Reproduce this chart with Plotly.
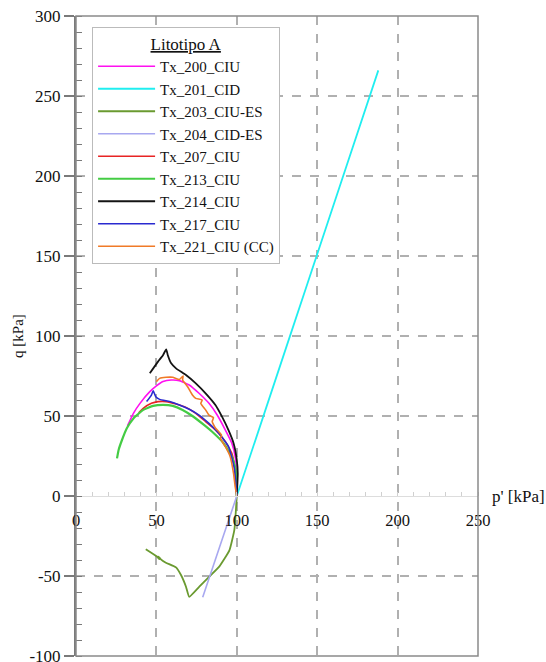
import plotly.graph_objects as go

# ---- data (p' [kPa], q [kPa]) ----
tx200_p = [100, 100, 99, 96.9, 92.9, 87.8, 82.7, 76.5, 70.4, 64.3, 59.2, 54.1, 50, 45.9, 39.8, 35.7, 32]
tx200_q = [0, 14, 24.6, 33, 41.2, 50.6, 57.9, 64.2, 69.4, 72.1, 72.5, 71.5, 68.8, 65.2, 57.9, 51.7, 43.8]

tx201_p = [100, 122, 144, 166, 188]
tx201_q = [0, 66.5, 133, 199.5, 266]

tx203_p = [100, 98.5, 95.4, 89.2, 82.9, 76.7, 70.4, 68.4, 65.3, 62.2, 55.9, 52.8, 51.3, 51.8, 50.5, 43.4]
tx203_q = [0, -21, -34, -44, -50.4, -56.7, -63, -56.7, -49.4, -44.6, -41.7, -39.6, -37.9, -39.5, -38, -33.3]

tx204_p = [100, 89.4, 78.8]
tx204_q = [0, -31.6, -63.3]

tx207_p = [100, 98.6, 96.9, 92.9, 86.7, 80.6, 74.5, 68.4, 62.2, 56.1, 51, 46.9, 41.8, 39]
tx207_q = [0, 18.3, 26.7, 34, 41.3, 46.5, 51.7, 55.4, 57.5, 59, 59, 57.9, 54.8, 52]

tx213_p = [100, 99.2, 96.9, 91.8, 85.7, 79.6, 72.4, 66.3, 60.2, 54.1, 48, 41.8, 35.7, 31.6, 28.6, 26.5, 25.5]
tx213_q = [0, 17, 24.6, 33, 39.2, 44.4, 50, 53.8, 56.3, 56.9, 56.3, 53.8, 48.5, 42.3, 35, 28.8, 23.5]

tx214_p = [100, 100.6, 100, 98, 94.9, 90.8, 86.7, 80.6, 74.5, 68.4, 62.2, 59.2, 57.1, 56.1, 54.1, 51, 45.9]
tx214_q = [0, 14, 22.5, 33, 41, 49.6, 56.9, 64.2, 70.4, 75.6, 79.8, 82.9, 88, 91.7, 88, 84, 76.7]

tx217_p = [100, 98.5, 94.9, 88.8, 82.7, 76.5, 70.4, 64.3, 58.2, 52, 49.6, 48, 46.9, 43.9]
tx217_q = [0, 17, 30.8, 39.2, 45.4, 50.6, 54.2, 56.9, 59, 60.4, 62.1, 65.8, 63.1, 59]

tx221_p = [100, 99, 98, 95.9, 92.9, 89.8, 90.5, 88.8, 86.7, 84.7, 85.5, 82.7, 80.6, 77.6, 78.5, 74.5, 72.4,
           69.4, 66.3, 66.6, 64.3, 60.2, 56.1, 52, 50]
tx221_q = [0, 5.8, 14, 24.6, 30.8, 36, 38, 40.2, 42.5, 46.5, 49, 50.5, 53.8, 57.9, 60, 61, 63.1,
           68.3, 72.5, 75, 72.8, 74.2, 74.2, 73.5, 71.5]

series = [
    ("Tx_200_CIU", tx200_p, tx200_q, "#ff10f0", 1.6),
    ("Tx_201_CID", tx201_p, tx201_q, "#20eef0", 1.8),
    ("Tx_203_CIU-ES", tx203_p, tx203_q, "#6a9a30", 1.8),
    ("Tx_204_CID-ES", tx204_p, tx204_q, "#a8a8f0", 1.6),
    ("Tx_207_CIU", tx207_p, tx207_q, "#e82424", 1.6),
    ("Tx_213_CIU", tx213_p, tx213_q, "#44cc44", 2.2),
    ("Tx_214_CIU", tx214_p, tx214_q, "#141414", 1.8),
    ("Tx_217_CIU", tx217_p, tx217_q, "#2a2ad0", 1.6),
    ("Tx_221_CIU (CC)", tx221_p, tx221_q, "#f07a28", 1.6),
]

x_ticks = [0, 50, 100, 150, 200, 250]
y_ticks = [-100, -50, 0, 50, 100, 150, 200, 250, 300]

SERIF = "Liberation Serif"

fig = go.Figure()
for name, p, q, col, w in series:
    fig.add_trace(go.Scatter(x=p, y=q, mode="lines", name=name,
                             line=dict(color=col, width=w, shape="spline", smoothing=0.4)))

fig.update_layout(
    width=546, height=662,
    margin=dict(l=76, r=68, t=16, b=6),
    plot_bgcolor="white", paper_bgcolor="white",
    font=dict(family=SERIF, size=16, color="#111"),
    showlegend=True,
    legend=dict(
        x=0.04, y=0.983, xanchor="left", yanchor="top",
        bgcolor="white", bordercolor="#bbbbbb", borderwidth=1,
        font=dict(family=SERIF, size=15, color="#111"),
        title=dict(text="<span style='text-decoration:underline'>Litotipo A</span>",
                   side="top center", font=dict(family=SERIF, size=17)),
        tracegroupgap=0, itemwidth=57,
    ),
    shapes=[dict(type="rect", xref="paper", yref="paper", x0=0, y0=0, x1=1, y1=1,
                 line=dict(color="#8a8a8a", width=1.5), layer="above")],
    annotations=[dict(text="p' [kPa]", xref="paper", yref="y", x=1.03, y=0,
                      xanchor="left", yanchor="middle", showarrow=False,
                      font=dict(family=SERIF, size=17, color="#111"))],
)

fig.update_xaxes(
    range=[0, 250], tickvals=x_ticks, ticktext=[str(v) for v in x_ticks],
    anchor="free", position=0.25,
    showline=True, linecolor="#dddddd", linewidth=1,
    ticks="outside", ticklen=9, tickcolor="rgba(0,0,0,0)",
    showgrid=True, gridcolor="#b0b0b0", griddash="dash", gridwidth=1.5,
    zeroline=False,
    minor=dict(dtick=10, ticks="inside", ticklen=4, tickcolor="#d0d0d0", showgrid=False),
    tickfont=dict(family=SERIF, size=16.5, color="#111"),
    ticklabeloverflow="allow",
)
fig.update_yaxes(
    range=[-100, 300], tickvals=y_ticks, ticktext=[str(v) for v in y_ticks],
    showline=True, linecolor="#7a7a7a", linewidth=2,
    ticks="outside", ticklen=10, tickcolor="#7a7a7a", tickwidth=1.5,
    showgrid=True, gridcolor="#b0b0b0", griddash="dash", gridwidth=1.5,
    zeroline=True, zerolinecolor="#dddddd", zerolinewidth=1,
    minor=dict(dtick=10, ticks="inside", ticklen=6, tickcolor="#7a7a7a", tickwidth=1.2, showgrid=False),
    tickfont=dict(family=SERIF, size=17, color="#111"),
    ticklabeloverflow="allow", automargin=False,
    title=dict(text="q [kPa]", font=dict(family=SERIF, size=15, color="#111"), standoff=2),
)

fig.write_html("out.html")
